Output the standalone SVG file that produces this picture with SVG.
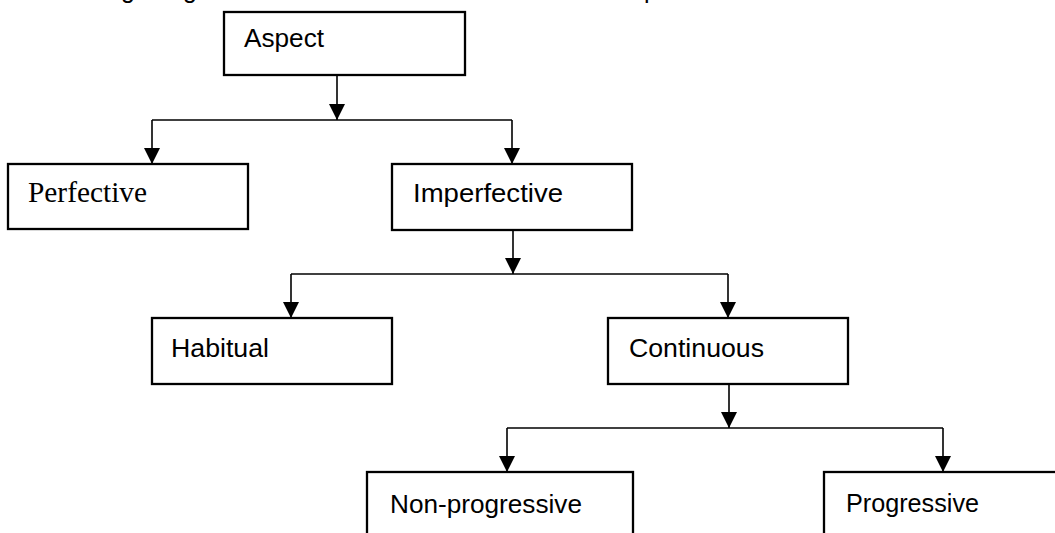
<svg xmlns="http://www.w3.org/2000/svg" width="1055" height="533" viewBox="0 0 1055 533">
<style>
.box{fill:#fff;stroke:#000;stroke-width:2.3}
.lbl{font-family:"Liberation Sans",Arial,sans-serif;font-size:25px;fill:#000}
.serif{font-family:"Liberation Serif","Times New Roman",serif;font-size:29px;fill:#000}
.con{fill:none;stroke:#000;stroke-width:1.6}
</style>
<defs>
<marker id="ah" markerUnits="userSpaceOnUse" markerWidth="16" markerHeight="16" viewBox="0 0 16 16" refX="16" refY="8" orient="auto">
<path d="M0,0 L16,8 L0,16 Z" fill="#000"/>
</marker>
</defs>
<rect width="1055" height="533" fill="#fff"/>
<g id="page-text-fragment" class="lbl">
<text x="121" y="-2">g</text>
<text x="183" y="-2">g</text>
<text x="644" y="-2">p</text>
</g>
<g id="connectors">
<path class="con" d="M337,75 V120" marker-end="url(#ah)"/>
<path class="con" d="M152,120 H512"/>
<path class="con" d="M152,120 V164" marker-end="url(#ah)"/>
<path class="con" d="M512,120 V164" marker-end="url(#ah)"/>
<path class="con" d="M513,230 V274" marker-end="url(#ah)"/>
<path class="con" d="M291,274 H728"/>
<path class="con" d="M291,274 V318" marker-end="url(#ah)"/>
<path class="con" d="M728,274 V318" marker-end="url(#ah)"/>
<path class="con" d="M729,384 V428" marker-end="url(#ah)"/>
<path class="con" d="M507,428 H943"/>
<path class="con" d="M507,428 V472" marker-end="url(#ah)"/>
<path class="con" d="M943,428 V472" marker-end="url(#ah)"/>
</g>
<g id="aspect">
<rect class="box" x="224" y="12" width="241" height="63"/>
<text class="lbl" x="244" y="47" textLength="80" lengthAdjust="spacingAndGlyphs">Aspect</text>
</g>
<g id="perfective">
<rect class="box" x="8" y="164" width="240" height="65"/>
<text class="serif" x="28" y="202" textLength="119" lengthAdjust="spacingAndGlyphs">Perfective</text>
</g>
<g id="imperfective">
<rect class="box" x="392" y="164" width="240" height="66"/>
<text class="lbl" x="413" y="202" textLength="150" lengthAdjust="spacingAndGlyphs">Imperfective</text>
</g>
<g id="habitual">
<rect class="box" x="152" y="318" width="240" height="66"/>
<text class="lbl" x="171" y="357" textLength="98" lengthAdjust="spacingAndGlyphs">Habitual</text>
</g>
<g id="continuous">
<rect class="box" x="608" y="318" width="240" height="66"/>
<text class="lbl" x="629" y="357" textLength="135" lengthAdjust="spacingAndGlyphs">Continuous</text>
</g>
<g id="non-progressive">
<rect class="box" x="367" y="472" width="266" height="80"/>
<text class="lbl" x="390" y="513" textLength="192" lengthAdjust="spacingAndGlyphs">Non-progressive</text>
</g>
<g id="progressive">
<rect class="box" x="824" y="472" width="260" height="80"/>
<text class="lbl" x="846" y="512" textLength="133" lengthAdjust="spacingAndGlyphs">Progressive</text>
</g>
</svg>
